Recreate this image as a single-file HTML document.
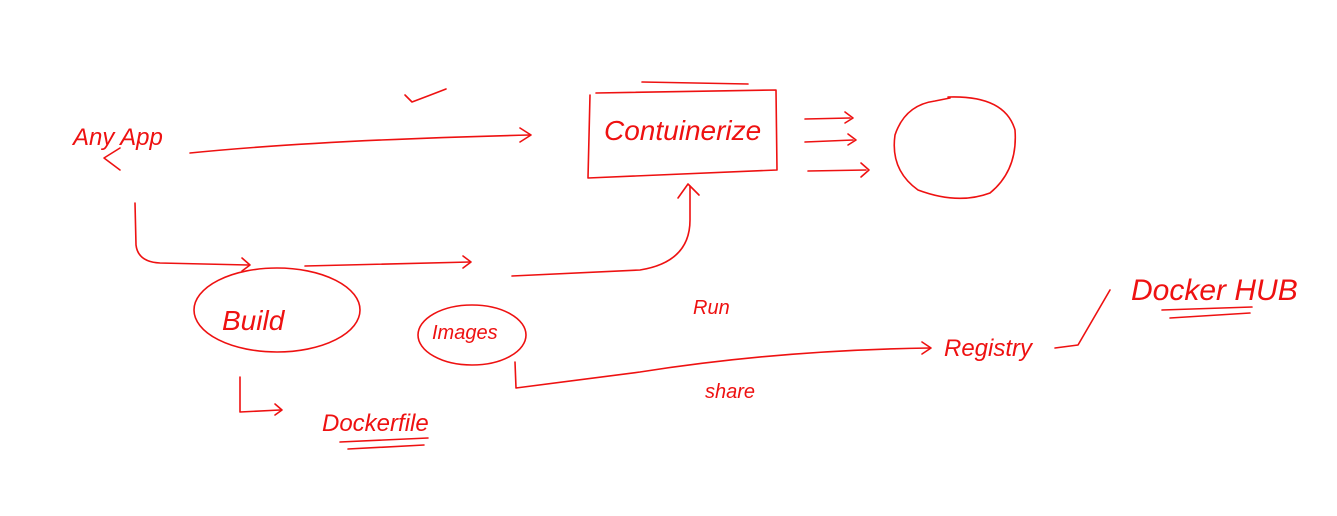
<!DOCTYPE html>
<html><head><style>
html,body{margin:0;padding:0;background:#fff;width:1337px;height:516px;overflow:hidden}
svg{display:block}
text{fill:#ee1111;font-family:"Liberation Sans",sans-serif;}
</style></head><body>
<svg width="1337" height="516" viewBox="0 0 1337 516" xmlns="http://www.w3.org/2000/svg">
<g fill="none" stroke="#ee1111" stroke-width="1.6" stroke-linecap="round" stroke-linejoin="round">
<path d="M405,95 L412,102 Q428,96 446,89"/>
<path d="M120,148 L104,158 L120,170"/>
<path d="M190,153 Q320,140 530,135"/><path d="M520,128 L531,135 L520,142"/>
<path d="M596,93 L776,90 L777,170 L588,178 L590,95"/>
<path d="M642,82 L748,84"/>
<path d="M805,119 L850,118"/><path d="M845,112 L853,118 L845,123"/>
<path d="M805,142 L853,140"/><path d="M848,134 L856,140 L848,145"/>
<path d="M808,171 L866,170"/><path d="M861,163 L869,170 L861,177"/>
<path d="M948,97 Q1005,95 1015,130 Q1018,170 990,193 Q958,205 918,190 Q890,170 895,135 Q905,105 935,101 L950,98"/>
<path d="M135,203 L136,245 Q138,262 160,263 L248,265"/><path d="M242,258 L250,265 L242,271"/>
<ellipse cx="277" cy="310" rx="83" ry="42"/>
<path d="M305,266 L470,262"/><path d="M463,256 L471,262 L463,268"/>
<path d="M512,276 L640,270 Q690,262 690,220 L690,186"/><path d="M678,198 L688,184 L699,195"/>
<ellipse cx="472" cy="335" rx="54" ry="30"/>
<path d="M515,362 L516,388 L640,372 Q780,350 930,348"/><path d="M922,342 L931,348 L922,354"/>
<path d="M1055,348 L1078,345 L1110,290"/>
<path d="M1162,310 L1252,307"/><path d="M1170,318 L1250,313"/>
<path d="M240,377 L240,412 L280,410"/><path d="M275,404 L282,410 L275,415"/>
<path d="M340,442 L428,438"/><path d="M348,449 L424,445"/>
</g>
<text x="73" y="145" font-size="24" font-style="italic">Any App</text>
<text x="604" y="140" font-size="28" font-style="italic">Contuinerize</text>
<text x="222" y="330" font-size="28" font-style="italic">Build</text>
<text x="432" y="339" font-size="20" font-style="italic">Images</text>
<text x="693" y="314" font-size="20" font-style="italic">Run</text>
<text x="705" y="398" font-size="20" font-style="italic">share</text>
<text x="944" y="356" font-size="24" font-style="italic">Registry</text>
<text x="1131" y="300" font-size="30" font-style="italic">Docker HUB</text>
<text x="322" y="431" font-size="24" font-style="italic">Dockerfile</text>
</svg>
</body></html>
